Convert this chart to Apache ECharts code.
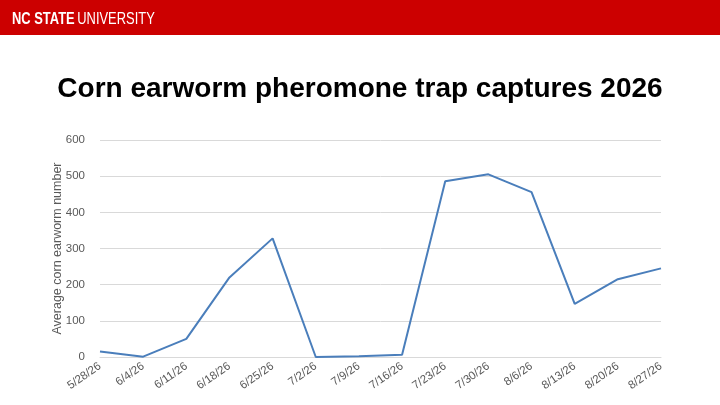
<!DOCTYPE html>
<html><head><meta charset="utf-8">
<script src="https://cdn.jsdelivr.net/npm/echarts@6/dist/echarts.min.js"></script>
<style>html,body{margin:0;padding:0;background:#fff}#c{width:720px;height:405px}</style>
</head><body><div id="c"></div>
<script>
const categories = ['5/28/26','6/4/26','6/11/26','6/18/26','6/25/26','7/2/26','7/9/26','7/16/26','7/23/26','7/30/26','8/6/26','8/13/26','8/20/26','8/27/26'];
const captures = [15, 1, 50, 220, 328, 0, 2, 6, 486, 505, 456, 147, 215, 245];
const yTicks = [0, 100, 200, 300, 400, 500, 600];

const chart = echarts.init(document.getElementById('c'));
chart.setOption({
  animation: false,
  backgroundColor: '#fff',
  graphic: [
    {type:'rect', left:0, top:0, shape:{width:720, height:35}, style:{fill:'#cc0000'}},
    {type:'text', x:12, y:11, scaleX:0.76, style:{
      text:'{b|NC STATE} {r|UNIVERSITY}',
      rich:{
        b:{fill:'#fff', fontFamily:'Liberation Sans, Arial', fontWeight:'bold', fontSize:17},
        r:{fill:'#fff', fontFamily:'Liberation Sans, Arial', fontSize:17}
      }
    }}
  ],
  title: {
    text: 'Corn earworm pheromone trap captures 2026',
    left: 'center', top: 70,
    textStyle: {fontFamily:'Liberation Sans, Arial', fontWeight:'bold', fontSize:28, color:'#000'}
  },
  grid: {left: 100, right: 59, top: 140, bottom: 48},
  xAxis: {
    type: 'category', data: categories, boundaryGap: false,
    axisLine: {show: true, lineStyle: {color: '#d9d9d9'}},
    axisTick: {show: false},
    axisLabel: {rotate: 35, color: '#595959', fontSize: 11.5, fontFamily: 'Liberation Sans, Arial', margin: 8, interval: 0}
  },
  yAxis: {
    type: 'value', min: yTicks[0], max: yTicks[yTicks.length-1], interval: 100,
    name: 'Average corn earworm number', nameLocation: 'middle', nameGap: 36, nameRotate: 90,
    nameMoveOverlap: false,
    nameTextStyle: {color: '#595959', fontSize: 12.5, fontFamily: 'Liberation Sans, Arial'},
    axisLine: {show: false}, axisTick: {show: false},
    axisLabel: {color: '#595959', fontSize: 11.5, fontFamily: 'Liberation Sans, Arial', margin: 15},
    splitLine: {lineStyle: {color: '#d9d9d9'}}
  },
  series: [{
    type: 'line', data: captures, symbol: 'none',
    lineStyle: {color: '#4a7ebb', width: 2}
  }]
});
</script></body></html>
